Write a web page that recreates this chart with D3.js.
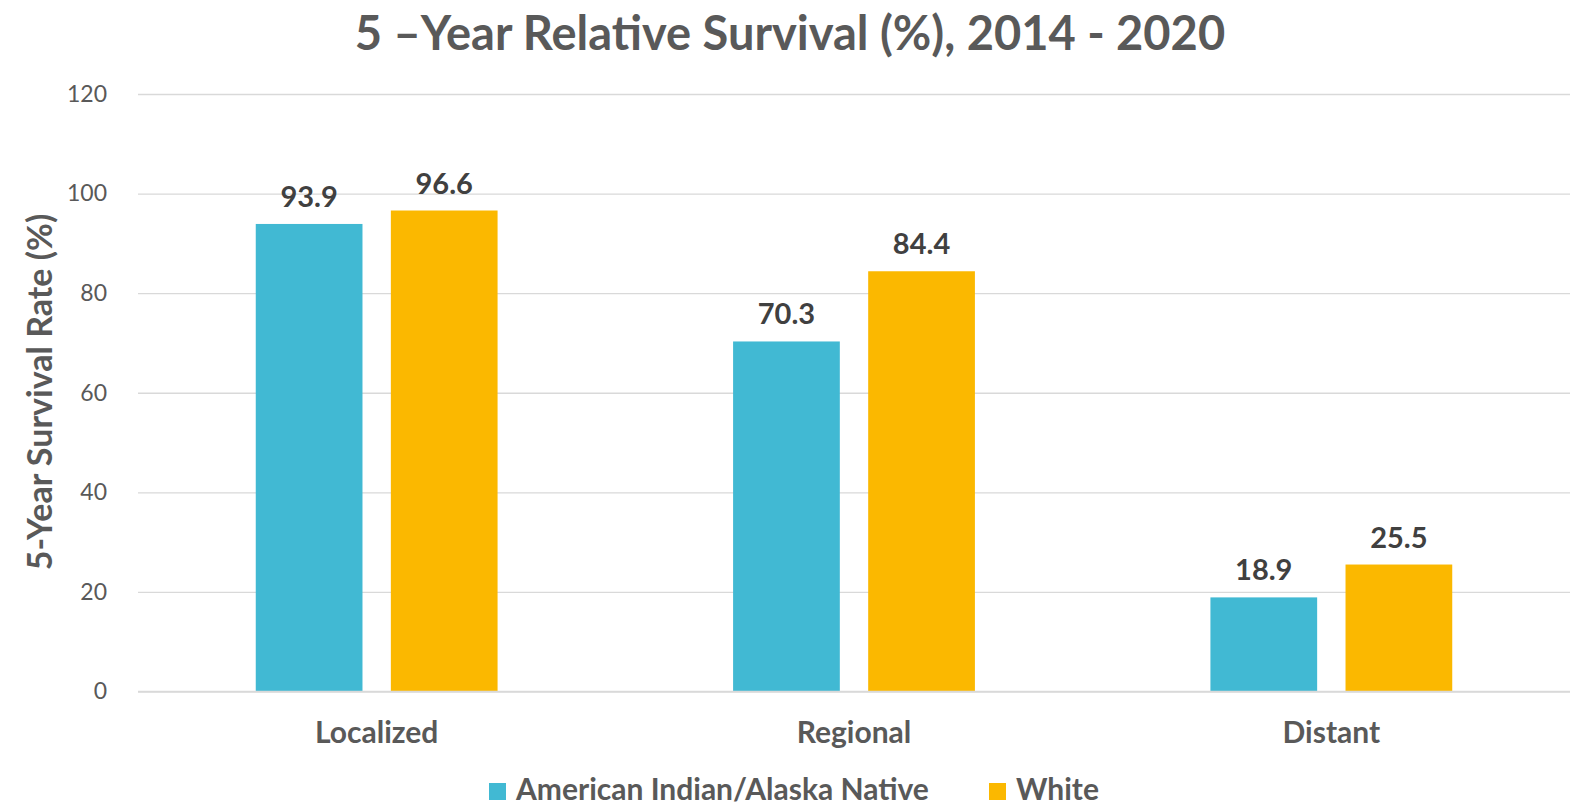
<!DOCTYPE html>
<html>
<head>
    <meta charset=utf-8 />
    <script src="https://cdn.jsdelivr.net/npm/d3@7"></script>
    <style>
        html, body { margin: 0; padding: 0; background: #fff; }
        svg { display: block; }
    </style>
</head>
<body>
    <div id="chart"></div>
    <script>
        var categories = ['Localized', 'Regional', 'Distant'];
        var seriesNames = ['American Indian/Alaska Native', 'White'];
        var aianValues = [93.9, 70.3, 18.9];
        var whiteValues = [96.6, 84.4, 25.5];
        var yTicks = [0, 20, 40, 60, 80, 100, 120];
        var colors = ['#41B9D3', '#FBB800'];

        var width = 1583, height = 809;
        var plotLeft = 138, plotRight = 1570, plotTop = 94, plotBottom = 691.5;

        var svg = d3.select('#chart').append('svg')
            .attr('width', width)
            .attr('height', height);

        var x0 = d3.scaleBand().domain(categories).range([plotLeft, plotRight])
            .paddingInner(0.4934).paddingOuter(0.2467);
        var x1 = d3.scaleBand().domain(seriesNames).range([0, x0.bandwidth()])
            .paddingInner(0.21);
        var y = d3.scaleLinear().domain([0, 120]).range([plotBottom, plotTop]);

        // grid
        var axisY = svg.append('g')
            .attr('transform', 'translate(' + plotLeft + ',0)')
            .call(d3.axisLeft(y).tickValues(yTicks).tickSize(-(plotRight - plotLeft)).tickPadding(31));
        axisY.select('.domain').remove();
        axisY.selectAll('line').attr('stroke', '#d9d9d9').attr('stroke-width', 1.3);
        axisY.selectAll('text')
            .attr('fill', '#595959')
            .style('font-family', 'Lato')
            .style('font-size', '23px');

        var rows = categories.map(function (c, i) {
            return { cat: c, vals: [aianValues[i], whiteValues[i]] };
        });

        var groups = svg.selectAll('.grp').data(rows).enter().append('g')
            .attr('transform', function (d) { return 'translate(' + x0(d.cat) + ',0)'; });

        groups.selectAll('rect')
            .data(function (d) { return d.vals.map(function (v, j) { return { s: seriesNames[j], v: v, j: j }; }); })
            .enter().append('rect')
            .attr('x', function (d) { return x1(d.s); })
            .attr('y', function (d) { return y(d.v); })
            .attr('width', x1.bandwidth())
            .attr('height', function (d) { return y(0) - y(d.v); })
            .attr('fill', function (d) { return colors[d.j]; });

        groups.selectAll('.lbl')
            .data(function (d) { return d.vals.map(function (v, j) { return { s: seriesNames[j], v: v }; }); })
            .enter().append('text')
            .attr('x', function (d) { return x1(d.s) + x1.bandwidth() / 2; })
            .attr('y', function (d) { return y(d.v) - 17; })
            .attr('text-anchor', 'middle')
            .attr('fill', '#404040')
            .style('font-family', 'Lato')
            .style('font-weight', 'bold')
            .style('font-size', '29px')
            .text(function (d) { return d3.format('.1f')(d.v); });

        // zero line drawn again on top
        svg.append('line')
            .attr('x1', plotLeft).attr('x2', plotRight)
            .attr('y1', y(0)).attr('y2', y(0))
            .attr('stroke', '#d9d9d9').attr('stroke-width', 1.3);

        // category labels
        svg.selectAll('.cat').data(categories).enter().append('text')
            .attr('x', function (d) { return x0(d) + x0.bandwidth() / 2; })
            .attr('y', 743)
            .attr('text-anchor', 'middle')
            .attr('fill', '#595959')
            .style('font-family', 'Lato')
            .style('font-weight', 'bold')
            .style('font-size', '30px')
            .text(function (d) { return d; });

        // title
        svg.append('text')
            .attr('x', 790).attr('y', 50)
            .attr('text-anchor', 'middle')
            .attr('fill', '#595959')
            .style('font-family', 'Lato')
            .style('font-weight', 'bold')
            .style('font-size', '47px')
            .text('5 \u2013Year Relative Survival (%), 2014 - 2020');

        // y axis title
        svg.append('text')
            .attr('transform', 'translate(52,392) rotate(-90)')
            .attr('text-anchor', 'middle')
            .attr('fill', '#595959')
            .style('font-family', 'Lato')
            .style('font-weight', 'bold')
            .style('font-size', '34px')
            .text('5-Year Survival Rate (%)');

        // legend
        var legendX = [489, 989];
        var legend = svg.selectAll('.leg').data(seriesNames).enter().append('g')
            .attr('transform', function (d, i) { return 'translate(' + legendX[i] + ',783)'; });
        legend.append('rect')
            .attr('x', 0).attr('y', 0)
            .attr('width', 17).attr('height', 17)
            .attr('fill', function (d, i) { return colors[i]; });
        legend.append('text')
            .attr('x', 27).attr('y', 17)
            .attr('fill', '#595959')
            .style('font-family', 'Lato')
            .style('font-weight', 'bold')
            .style('font-size', '30px')
            .text(function (d) { return d; });
    </script>
</body>
</html>
